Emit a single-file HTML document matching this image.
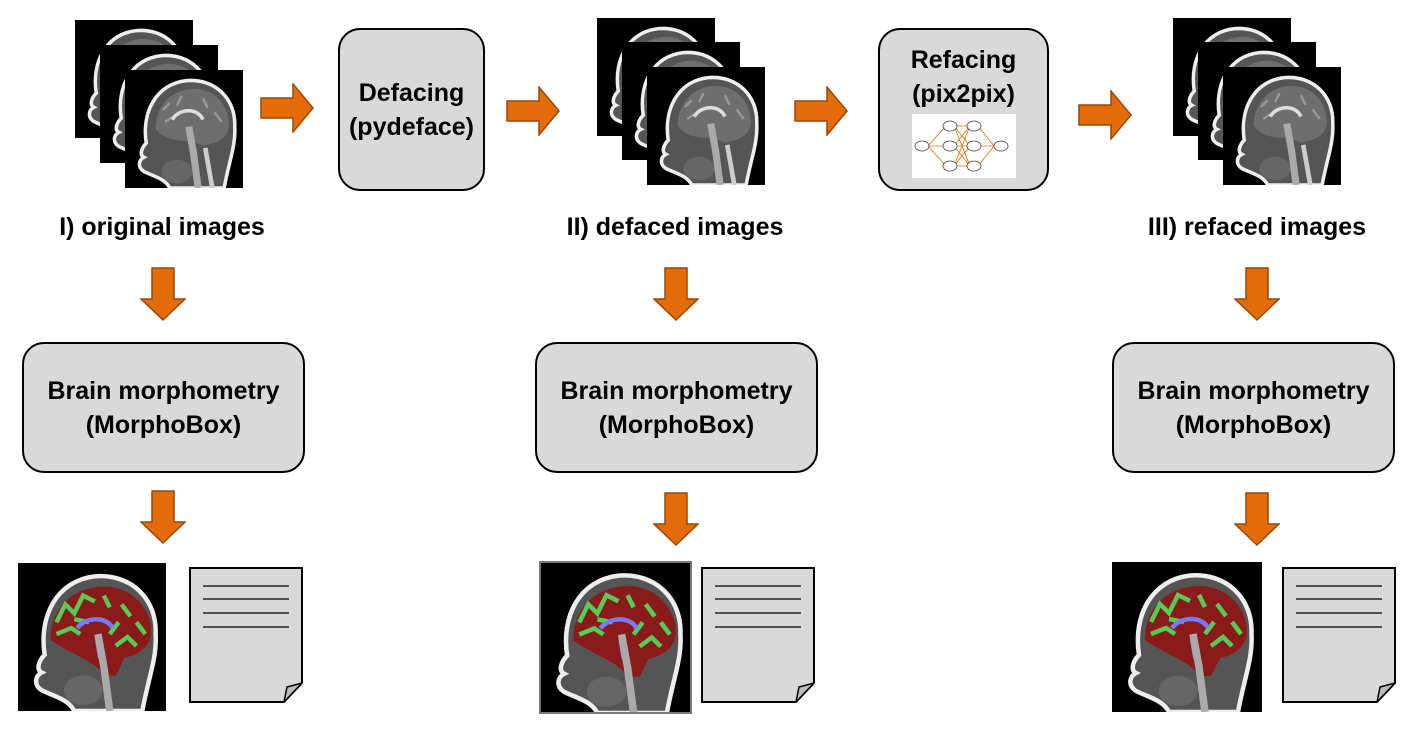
<!DOCTYPE html>
<html><head><meta charset="utf-8"><style>
body{margin:0;width:1420px;height:736px;background:#fff;position:relative;overflow:hidden;font-family:"Liberation Sans",sans-serif}
.a{position:absolute}
.box{position:absolute;background:#d9d9d9;border:2px solid #000;border-radius:22px;box-sizing:border-box;display:flex;flex-direction:column;align-items:center;justify-content:center;text-align:center;font-weight:bold;font-size:25px;line-height:34px;color:#000}
.lbl{position:absolute;font-weight:bold;font-size:25px;white-space:nowrap;transform:translateX(-50%);top:213px}
svg.a{overflow:visible}
</style></head><body>
<svg width="0" height="0" style="position:absolute">
<defs>
<symbol id="mri" viewBox="0 0 100 100">
<rect width="100" height="100" fill="#000"/>
<path d="M18 62 C14 36 26 12 52 9 C76 7 94 24 93 48 C94 64 88 78 84 100 L38 100 C34 92 24 90 16 86 C10 82 12 76 16 74 C12 72 14 66 18 62 Z" fill="#555" stroke="#eee" stroke-width="3"/>
<path d="M26 50 C26 28 42 16 58 16 C78 16 88 32 88 46 C88 58 78 62 66 64 L56 60 C46 60 34 60 26 50 Z" fill="#6e6e6e"/>
<path d="M32 34 L38 28 M44 30 L48 22 M66 24 L70 32 M76 36 L82 44 M34 44 L40 40" stroke="#999" stroke-width="2"/>
<path d="M40 42 C46 32 62 32 66 42" fill="none" stroke="#ddd" stroke-width="3"/>
<path d="M54 48 L58 70 L62 100" fill="none" stroke="#aaa" stroke-width="6"/>
<path d="M68 66 L74 100" stroke="#ccc" stroke-width="4"/>
<ellipse cx="44" cy="86" rx="13" ry="10" fill="#666"/>
</symbol>
<symbol id="seg" viewBox="0 0 100 100">
<rect width="100" height="100" fill="#000"/>
<path d="M18 62 C14 36 26 12 52 9 C76 7 94 24 93 48 C94 64 88 78 84 100 L38 100 C34 92 24 90 16 86 C10 82 12 76 16 74 C12 72 14 66 18 62 Z" fill="#555" stroke="#eee" stroke-width="3"/>
<path d="M22 52 C22 28 40 16 58 16 C78 16 90 32 90 46 C90 56 82 62 72 64 L66 76 L58 76 C52 66 40 64 22 52 Z" fill="#8b1a1a"/>
<path d="M26 40 L32 28 L38 34 L44 22 L52 26 M26 48 L36 44 L42 48 M62 48 L68 40 M66 56 L74 50 L80 56 M38 38 L48 40 M58 22 L62 30 M70 28 L76 36 M80 40 L86 48" fill="none" stroke="#55cc55" stroke-width="3"/>
<path d="M40 44 C46 36 60 36 64 44" fill="none" stroke="#7a7aff" stroke-width="3"/>
<path d="M54 52 L56 64" stroke="#7a7aff" stroke-width="4"/>
<path d="M54 48 L58 70 L62 100" fill="none" stroke="#aaa" stroke-width="5"/>
<ellipse cx="44" cy="86" rx="13" ry="10" fill="#666"/>
</symbol>
<symbol id="doc" viewBox="0 0 114 136">
<path d="M1 1 H113 V116 L95 135 H1 Z" fill="#d9d9d9" stroke="#000" stroke-width="2"/>
<path d="M95 135 L98 120 L113 116 Z" fill="#bbb" stroke="#000" stroke-width="1.5"/>
<path d="M14 19 H100 M14 32 H100 M14 46 H100 M14 60 H100" stroke="#000" stroke-width="1.2"/>
</symbol>
<symbol id="ar" viewBox="0 0 54 50">
<path d="M1 15 H33 V1 L53 25 L33 49 V35 H1 Z" fill="#e36c09" stroke="#984807" stroke-width="1.5"/>
</symbol>
<symbol id="ad" viewBox="0 0 46 54">
<path d="M12 1 H34 V32 H45 L23 53 L1 32 H12 Z" fill="#e36c09" stroke="#984807" stroke-width="1.5"/>
</symbol>
</defs></svg>

<svg class="a" style="left:75px;top:20px" width="118" height="118"><use href="#mri"/></svg>
<svg class="a" style="left:100px;top:45px" width="118" height="118"><use href="#mri"/></svg>
<svg class="a" style="left:125px;top:70px" width="118" height="118"><use href="#mri"/></svg>

<svg class="a" style="left:597px;top:18px" width="118" height="118"><use href="#mri"/></svg>
<svg class="a" style="left:622px;top:42px" width="118" height="118"><use href="#mri"/></svg>
<svg class="a" style="left:647px;top:67px" width="118" height="118"><use href="#mri"/></svg>

<svg class="a" style="left:1173px;top:18px" width="118" height="118"><use href="#mri"/></svg>
<svg class="a" style="left:1198px;top:42px" width="118" height="118"><use href="#mri"/></svg>
<svg class="a" style="left:1223px;top:67px" width="118" height="118"><use href="#mri"/></svg>

<svg class="a" style="left:260px;top:83px" width="54" height="50"><use href="#ar"/></svg>
<svg class="a" style="left:506px;top:86px" width="54" height="50"><use href="#ar"/></svg>
<svg class="a" style="left:794px;top:86px" width="54" height="50"><use href="#ar"/></svg>
<svg class="a" style="left:1078px;top:90px" width="54" height="50"><use href="#ar"/></svg>

<div class="box" style="left:338px;top:28px;width:147px;height:163px">Defacing<br>(pydeface)</div>
<div class="box" style="left:878px;top:28px;width:171px;height:163px;justify-content:flex-start;padding-top:13px">Refacing<br>(pix2pix)
<svg width="104" height="64" style="background:#fff;margin-top:3px" viewBox="0 0 104 64">
<g stroke="#e36c09" stroke-width="0.8" fill="none">
<path d="M16 32 L34 12 M16 32 L34 32 M16 32 L34 52 M42 12 L58 12 M42 12 L58 32 M42 12 L58 52 M42 32 L58 12 M42 32 L58 32 M42 32 L58 52 M42 52 L58 12 M42 52 L58 32 M42 52 L58 52 M66 12 L82 32 M66 32 L82 32 M66 52 L82 32"/></g>
<g fill="#fff" stroke="#444" stroke-width="0.8">
<ellipse cx="10" cy="32" rx="7" ry="5"/><ellipse cx="38" cy="12" rx="7" ry="5"/><ellipse cx="38" cy="32" rx="7" ry="5"/><ellipse cx="38" cy="52" rx="7" ry="5"/>
<ellipse cx="62" cy="12" rx="7" ry="5"/><ellipse cx="62" cy="32" rx="7" ry="5"/><ellipse cx="62" cy="52" rx="7" ry="5"/><ellipse cx="89" cy="32" rx="7" ry="5"/></g>
</svg></div>

<div class="lbl" style="left:162px">I) original images</div>
<div class="lbl" style="left:675px">II) defaced images</div>
<div class="lbl" style="left:1257px">III) refaced images</div>

<svg class="a" style="left:140px;top:267px" width="46" height="54"><use href="#ad"/></svg>
<svg class="a" style="left:653px;top:267px" width="46" height="54"><use href="#ad"/></svg>
<svg class="a" style="left:1234px;top:267px" width="46" height="54"><use href="#ad"/></svg>
<svg class="a" style="left:140px;top:490px" width="46" height="54"><use href="#ad"/></svg>
<svg class="a" style="left:653px;top:492px" width="46" height="54"><use href="#ad"/></svg>
<svg class="a" style="left:1234px;top:492px" width="46" height="54"><use href="#ad"/></svg>

<div class="box" style="left:22px;top:342px;width:283px;height:131px">Brain morphometry<br>(MorphoBox)</div>
<div class="box" style="left:535px;top:342px;width:283px;height:131px">Brain morphometry<br>(MorphoBox)</div>
<div class="box" style="left:1112px;top:342px;width:283px;height:131px">Brain morphometry<br>(MorphoBox)</div>

<svg class="a" style="left:18px;top:563px" width="148" height="148"><use href="#seg"/></svg>
<svg class="a" style="left:189px;top:567px" width="114" height="136"><use href="#doc"/></svg>
<svg class="a" style="left:540px;top:562px;outline:2px solid #777;outline-offset:-1px" width="151" height="151"><use href="#seg"/></svg>
<svg class="a" style="left:701px;top:567px" width="114" height="136"><use href="#doc"/></svg>
<svg class="a" style="left:1112px;top:562px" width="150" height="150"><use href="#seg"/></svg>
<svg class="a" style="left:1282px;top:567px" width="114" height="136"><use href="#doc"/></svg>
</body></html>
